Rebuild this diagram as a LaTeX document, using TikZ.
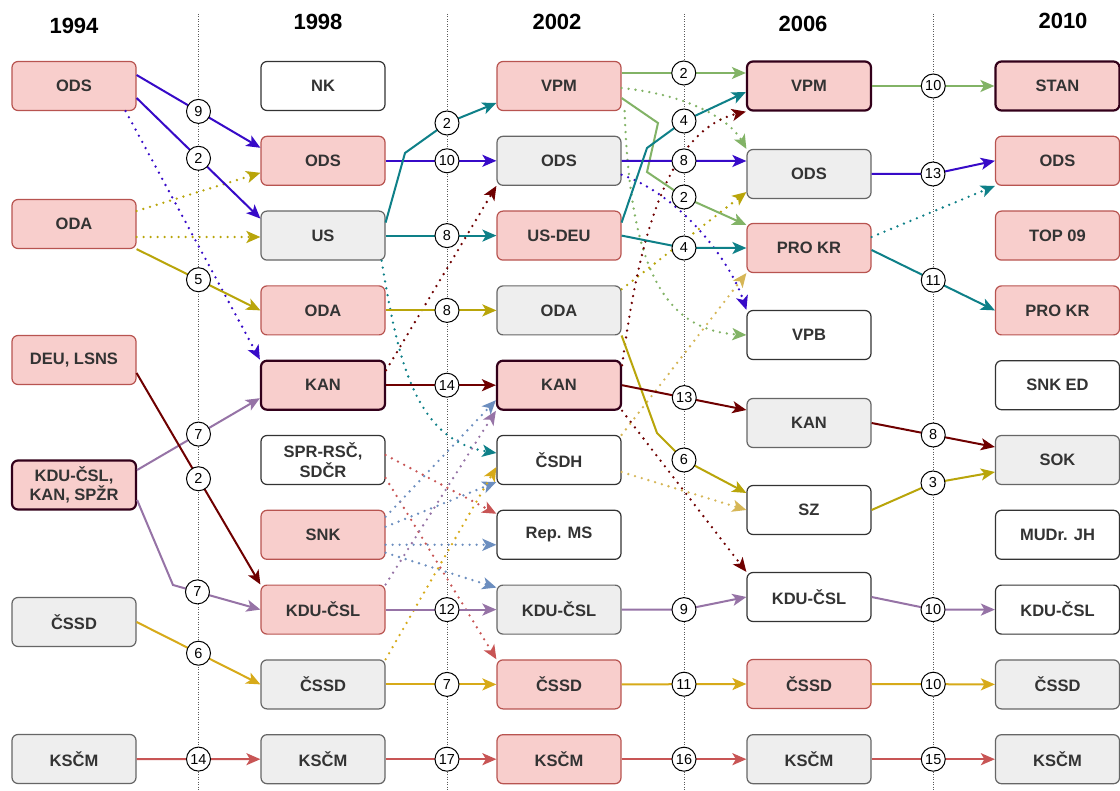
\documentclass[tikz,border=0pt]{standalone}
\usepackage{fontspec}
\setmainfont{Liberation Sans}
\usetikzlibrary{arrows.meta,calc}

\definecolor{pinkfill}{RGB}{248,206,204}
\definecolor{pinkline}{RGB}{184,84,80}
\definecolor{grayfill}{RGB}{238,238,238}
\definecolor{grayline}{RGB}{102,102,102}
\definecolor{keyline}{RGB}{51,0,26}
\definecolor{textgray}{RGB}{51,51,51}
\definecolor{odsblue}{RGB}{55,10,200}
\definecolor{odaolive}{RGB}{185,165,10}
\definecolor{cssdgold}{RGB}{215,170,25}
\definecolor{usteal}{RGB}{14,128,136}
\definecolor{kanred}{RGB}{111,0,0}
\definecolor{kdumauve}{RGB}{150,115,166}
\definecolor{kscmred}{RGB}{200,85,85}
\definecolor{vpmgreen}{RGB}{130,179,102}
\definecolor{snkblue}{RGB}{108,142,191}
\definecolor{csdhgold}{RGB}{214,182,86}

\begin{document}
\begin{tikzpicture}[x=1pt, y=-1pt, font=\fontsize{16.5}{19.5}\selectfont\bfseries]
    % Set up styles for boxes and flows
    \tikzstyle{party} = [rounded corners=6pt, minimum width=124pt, minimum height=49pt, align=center, text=textgray, line width=1.2pt, inner sep=2pt]
    \tikzstyle{pinkbox} = [party, draw=pinkline, fill=pinkfill]
    \tikzstyle{graybox} = [party, draw=grayline, fill=grayfill]
    \tikzstyle{whitebox} = [party, draw=textgray, fill=white]
    \tikzstyle{keybox} = [party, draw=keyline, fill=pinkfill, line width=2.2pt]
    \tikzstyle{flow} = [-{Stealth[length=14pt,width=12pt,inset=3.5pt]}, line width=2pt]
    \tikzstyle{leak} = [flow, line width=2.6pt, dash pattern=on 0pt off 7pt, line cap=round]
    \tikzstyle{num} = [circle, draw=black, fill=white, text=black, line width=1pt, inner sep=0pt, minimum size=24pt, font=\fontsize{14.5}{14.5}\selectfont]

    \fill[white] (0,0) rectangle (1120,791);
    \useasboundingbox (0,0) rectangle (1120,791);

    % Election separators and years
    \foreach \x in {198,447,684,933}
        \draw[gray!70!black, line width=0.8pt, dash pattern=on 1pt off 1.5pt] (\x,14) -- (\x,791);
    \foreach \x/\y/\yr in {74/26/1994, 318/22/1998, 557/22/2002, 803/24/2006, 1063/21/2010}
        \node[font=\fontsize{22}{24}\selectfont\bfseries] (yr\yr) at (\x,\y) {\yr};

    % 1994
    \node[pinkbox] (ods94) at (74,86) {ODS};
    \node[pinkbox] (oda94) at (74,224) {ODA};
    \node[pinkbox] (deu94) at (74,360) {DEU, LSNS};
    \node[keybox] (kdu94) at (74,485) {KDU-ČSL,\\KAN, SPŽR};
    \node[graybox] (cssd94) at (74,622) {ČSSD};
    \node[graybox] (kscm94) at (74,759) {KSČM};

    % 1998
    \node[whitebox] (nk98) at (323,86) {NK};
    \node[pinkbox] (ods98) at (323,160.8) {ODS};
    \node[graybox] (us98) at (323,235.6) {US};
    \node[pinkbox] (oda98) at (323,310.4) {ODA};
    \node[keybox] (kan98) at (323,385.2) {KAN};
    \node[whitebox] (spr98) at (323,460) {SPR-RSČ,\\SDČR};
    \node[pinkbox] (snk98) at (323,534.8) {SNK};
    \node[pinkbox] (kdu98) at (323,609.6) {KDU-ČSL};
    \node[graybox] (cssd98) at (323,684.4) {ČSSD};
    \node[graybox] (kscm98) at (323,759.2) {KSČM};

    % 2002
    \node[pinkbox] (vpm02) at (559,86) {VPM};
    \node[graybox] (ods02) at (559,160.8) {ODS};
    \node[pinkbox] (usdeu02) at (559,235.6) {US-DEU};
    \node[graybox] (oda02) at (559,310.4) {ODA};
    \node[keybox] (kan02) at (559,385.2) {KAN};
    \node[whitebox] (csdh02) at (559,460) {ČSDH};
    \node[whitebox] (rep02) at (559,534.8) {Rep. MS};
    \node[graybox] (kdu02) at (559,609.6) {KDU-ČSL};
    \node[pinkbox] (cssd02) at (559,684.4) {ČSSD};
    \node[pinkbox] (kscm02) at (559,759.2) {KSČM};

    % 2006
    \node[keybox] (vpm06) at (809,86) {VPM};
    \node[graybox] (ods06) at (809,174) {ODS};
    \node[pinkbox] (prokr06) at (809,248) {PRO KR};
    \node[whitebox] (vpb06) at (809,335) {VPB};
    \node[graybox] (kan06) at (809,423) {KAN};
    \node[whitebox] (sz06) at (809,510) {SZ};
    \node[whitebox] (kdu06) at (809,597) {KDU-ČSL};
    \node[pinkbox] (cssd06) at (809,684) {ČSSD};
    \node[graybox] (kscm06) at (809,759.2) {KSČM};

    % 2010
    \node[keybox] (stan10) at (1057.5,86) {STAN};
    \node[pinkbox] (ods10) at (1057.5,160.8) {ODS};
    \node[pinkbox] (top10) at (1057.5,235.6) {TOP 09};
    \node[pinkbox] (prokr10) at (1057.5,310.4) {PRO KR};
    \node[whitebox] (snked10) at (1057.5,385.2) {SNK ED};
    \node[graybox] (sok10) at (1057.5,460) {SOK};
    \node[whitebox] (mudr10) at (1057.5,534.8) {MUDr. JH};
    \node[whitebox] (kdu10) at (1057.5,609.6) {KDU-ČSL};
    \node[graybox] (cssd10) at (1057.5,684.4) {ČSSD};
    \node[graybox] (kscm10) at (1057.5,759.2) {KSČM};

    % 1994 -> 1998
    \draw[leak, odsblue] ($(ods94.south east)+(-11,0)$) -- (kan98.north west);
    \draw[leak, odaolive] ($(oda94.east)+(0,-13)$) -- ($(ods98.west)+(0,12)$);
    \draw[leak, odaolive] ($(oda94.east)+(0,13)$) -- ($(us98.west)+(0,1.4)$);
    \draw[flow, odsblue] ($(ods94.east)+(0,-11)$) -- node[num] {9} ($(ods98.west)+(0,-13)$);
    \draw[flow, odsblue] ($(ods94.east)+(0,12)$) -- node[num] {2} ($(us98.west)+(0,-17)$);
    \draw[flow, odaolive] (oda94.south east) -- node[num] {5} (oda98.west);
    \draw[flow, kdumauve] ($(kdu94.east)+(0,-15)$) -- node[num] {7} ($(kan98.west)+(0,13)$);
    \draw[flow, kanred] ($(deu94.east)+(0,13)$) -- node[num] {2} (kdu98.north west);
    \draw[flow, kdumauve] ($(kdu94.east)+(0,15)$) -- (173,585) -- node[num, pos=.28] {7} (kdu98.west);
    \draw[flow, cssdgold] (cssd94.east) -- node[num] {6} (cssd98.west);
    \draw[flow, kscmred] (kscm94.east) -- node[num] {14} (kscm98.west);

    % 1998 -> 2002
    \draw[leak, usteal] ($(us98.south east)+(-4,0)$) .. controls (398,360) and (415,440) .. ($(csdh02.west)+(0,-7)$);
    \draw[leak, kanred] ($(kan98.east)+(0,-15)$) -- (ods02.south west);
    \draw[leak, kscmred] ($(spr98.east)+(0,-5)$) -- ($(rep02.west)+(0,-21)$);
    \draw[leak, kscmred] ($(spr98.east)+(0,18)$) -- (cssd02.north west);
    \draw[leak, snkblue] ($(snk98.east)+(0,-18)$) -- ($(kan02.west)+(0,15)$);
    \draw[leak, snkblue] ($(snk98.east)+(0,-8)$) -- ($(csdh02.west)+(0,22)$);
    \draw[leak, snkblue] ($(snk98.east)+(0,10)$) -- ($(rep02.west)+(0,10)$);
    \draw[leak, snkblue] ($(snk98.east)+(0,18)$) -- ($(kdu02.west)+(0,-22)$);
    \draw[leak, kdumauve] (kdu98.north east) -- (kan02.south west);
    \draw[leak, cssdgold] (cssd98.north east) -- ($(csdh02.west)+(0,7)$);
    \draw[flow, odsblue] (ods98.east) -- node[num, pos=.554] {10} (ods02.west);
    \draw[flow, usteal] ($(us98.east)+(0,-13)$) -- (405,153) -- (447,123) node[num] {2} -- ($(vpm02.west)+(0,17)$);
    \draw[flow, usteal] (us98.east) -- node[num, pos=.554] {8} (usdeu02.west);
    \draw[flow, odaolive] (oda98.east) -- node[num, pos=.554] {8} (oda02.west);
    \draw[flow, kanred] (kan98.east) -- node[num, pos=.554] {14} (kan02.west);
    \draw[flow, kdumauve] (kdu98.east) -- node[num, pos=.554] {12} (kdu02.west);
    \draw[flow, cssdgold] (cssd98.east) -- node[num, pos=.554] {7} (cssd02.west);
    \draw[flow, kscmred] (kscm98.east) -- node[num, pos=.554] {17} (kscm02.west);

    % 2002 -> 2006
    \draw[leak, vpmgreen] ($(vpm02.east)+(0,2)$) .. controls (690,95) and (730,120) .. (ods06.north west);
    \draw[leak, vpmgreen] ($(vpm02.south east)+(3,0)$) .. controls (630,260) and (660,330) .. (vpb06.west);
    \draw[leak, odsblue] ($(ods02.east)+(0,14)$) .. controls (680,195) and (730,260) .. (vpb06.north west);
    \draw[leak, odaolive] ($(oda02.north east)+(0,4)$) -- ($(ods06.west)+(0,18)$);
    \draw[leak, kanred] ($(kan02.east)+(0,-20)$) .. controls (640,230) and (670,130) .. (vpm06.south west);
    \draw[leak, kanred] (kan02.south east) -- (kdu06.north west);
    \draw[leak, csdhgold] ($(csdh02.east)+(0,12)$) -- (sz06.west);
    \draw[leak, csdhgold] (csdh02.north east) -- (prokr06.south west);
    \draw[flow, vpmgreen] ($(vpm02.east)+(0,-13)$) -- node[num] {2} ($(vpm06.west)+(0,-13)$);
    \draw[flow, vpmgreen] ($(vpm02.east)+(0,12)$) -- (658,123) -- (647,172) -- (684,197) node[num] {2} -- ($(prokr06.west)+(0,-23)$);
    \draw[flow, odsblue] (ods02.east) -- node[num] {8} ($(ods06.west)+(0,-13)$);
    \draw[flow, usteal] ($(usdeu02.east)+(0,-13)$) -- (647,148) -- (684,121) node[num] {4} -- ($(vpm06.west)+(0,6)$);
    \draw[flow, usteal] (usdeu02.east) -- (684,248) node[num] {4} -- (prokr06.west);
    \draw[flow, odaolive] (oda02.south east) -- (657,433) -- (684,460) node[num] {6} -- ($(sz06.west)+(0,-17)$);
    \draw[flow, kanred] (kan02.east) -- node[num] {13} ($(kan06.west)+(0,-13)$);
    \draw[flow, kdumauve] (kdu02.east) -- (684,609.6) node[num] {9} -- (kdu06.west);
    \draw[flow, cssdgold] (cssd02.east) -- node[num] {11} (cssd06.west);
    \draw[flow, kscmred] (kscm02.east) -- node[num] {16} (kscm06.west);

    % 2006 -> 2010
    \draw[leak, usteal] ($(prokr06.east)+(0,-11)$) -- (ods10.south west);
    \draw[flow, vpmgreen] (vpm06.east) -- node[num] {10} (stan10.west);
    \draw[flow, odsblue] (ods06.east) -- (933,174) node[num] {13} -- (ods10.west);
    \draw[flow, usteal] ($(prokr06.east)+(0,2)$) -- node[num] {11} (prokr10.west);
    \draw[flow, kanred] (kan06.east) -- node[num] {8} ($(sok10.west)+(0,-13)$);
    \draw[flow, odaolive] (sz06.east) -- (933,483) node[num] {3} -- ($(sok10.west)+(0,12)$);
    \draw[flow, kdumauve] (kdu06.east) -- (933,609.6) node[num] {10} -- (kdu10.west);
    \draw[flow, cssdgold] (cssd06.east) -- node[num] {10} (cssd10.west);
    \draw[flow, kscmred] (kscm06.east) -- node[num] {15} (kscm10.west);

\end{tikzpicture}
\end{document}
